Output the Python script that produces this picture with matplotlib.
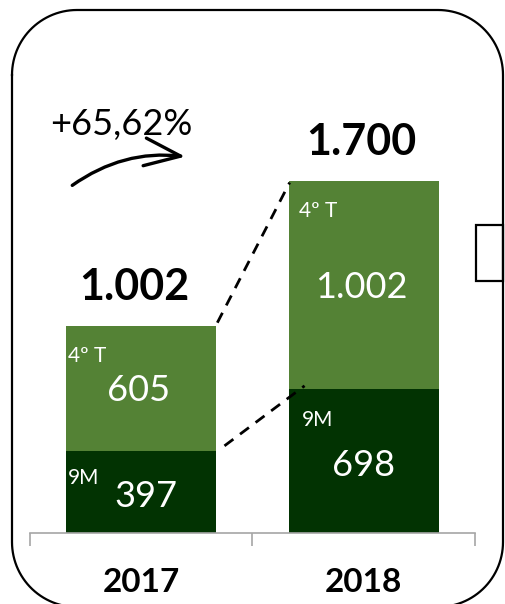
import numpy as np
import matplotlib.pyplot as plt
from matplotlib.patches import Rectangle, FancyArrowPatch
from matplotlib.transforms import Affine2D

# datos
anios = ['2017', '2018']
nueve_meses = [397, 698]
cuarto_trim = [605, 1002]
totales = ['1.002', '1.700']
etq_9m = ['397', '698']
etq_4t = ['605', '1.002']
variacion = '+65,62%'

verde_claro = '#548235'
verde_oscuro = '#023302'

plt.rcParams['font.family'] = ['Lato', 'DejaVu Sans']

fig = plt.figure(figsize=(5.06, 6.04), dpi=100)
# transformacion en pixeles (origen arriba a la izquierda)
px = Affine2D().scale(1 / 506, -1 / 604).translate(0, 1) + fig.transFigure

ax = fig.add_axes([30 / 506, 71 / 604, 445 / 506, 414 / 604])
x = [0, 1]
ancho = 0.676
ax.bar(x, nueve_meses, width=ancho, color=verde_oscuro, zorder=2)
ax.bar(x, cuarto_trim, width=ancho, bottom=nueve_meses, color=verde_claro, zorder=2)
ax.set_xlim(-0.5, 1.5)
ax.set_ylim(0, 2000)

for s in ['top', 'left', 'right']:
    ax.spines[s].set_visible(False)
ax.spines['bottom'].set_color('#a6a6a6')
ax.spines['bottom'].set_linewidth(1.2)
ax.set_yticks([])
ax.set_xticks(x)
ax.set_xticklabels(anios, fontsize=24, fontweight='bold')
ax.tick_params(axis='x', which='major', length=0, pad=25)
ax.set_xticks([-0.5, 0.5, 1.5], minor=True)
ax.tick_params(axis='x', which='minor', length=9, color='#a6a6a6', width=1.2)

for i in range(2):
    tot = nueve_meses[i] + cuarto_trim[i]
    ax.text(x[i] - 0.03 + 0.02 * i, tot + 90, totales[i], ha='center', va='bottom',
            fontsize=31, fontweight='bold', clip_on=False)
    ax.text(x[i] - 0.33 + 0.04 * i, tot - 145, '4º T', ha='left', va='center',
            fontsize=15, color='white')
    ax.text(x[i] - 0.33 + 0.05 * i, nueve_meses[i] - 131 - 21 * i, '9M', ha='left', va='center',
            fontsize=15, color='white')
    ax.text(x[i] - 0.01, nueve_meses[i] + cuarto_trim[i] / 2 - 12, etq_4t[i],
            ha='center', va='center', fontsize=26, color='white')
    ax.text(x[i] + 0.02 - 0.02 * i, nueve_meses[i] / 2 - 23, etq_9m[i],
            ha='center', va='center', fontsize=26, color='white')

# lineas discontinuas entre barras
ax.plot([0.342, 0.667], [1016, 1693], ls='--', color='black', lw=2, dashes=(4, 3), zorder=3)
ax.plot([0.374, 0.734], [421, 711], ls='--', color='black', lw=2, dashes=(4, 3), zorder=3)

# variacion y flecha
fig.text(121 / 506, 1 - 125 / 604, variacion, ha='center', va='center', fontsize=26)
flecha = FancyArrowPatch((70, 187), (188, 157), transform=px,
                         connectionstyle='arc3,rad=-0.2',
                         arrowstyle='->,head_length=1.3,head_width=0.5',
                         color='black', lw=2.4, mutation_scale=20)
fig.add_artist(flecha)

# marco redondeado (pixeles)
x0, x1, y0, y1, r = 12, 503, 10, 607, 65
t = np.linspace(0, np.pi / 2, 30)
mx = np.concatenate([x0 + r - r * np.cos(t), x1 - r + r * np.sin(t),
                     x1 - r + r * np.cos(t), x0 + r - r * np.sin(t), [x0]])
my = np.concatenate([y0 + r - r * np.sin(t), y0 + r - r * np.cos(t),
                     y1 - r + r * np.sin(t), y1 - r + r * np.cos(t), [y0 + r]])
fig.add_artist(plt.Line2D(mx, my, transform=px, color='black', lw=1.6))
fig.add_artist(Rectangle((476, 225), 27, 56, transform=px, fill=False, ec='black', lw=1.6))

plt.savefig('out.png', dpi=100)
